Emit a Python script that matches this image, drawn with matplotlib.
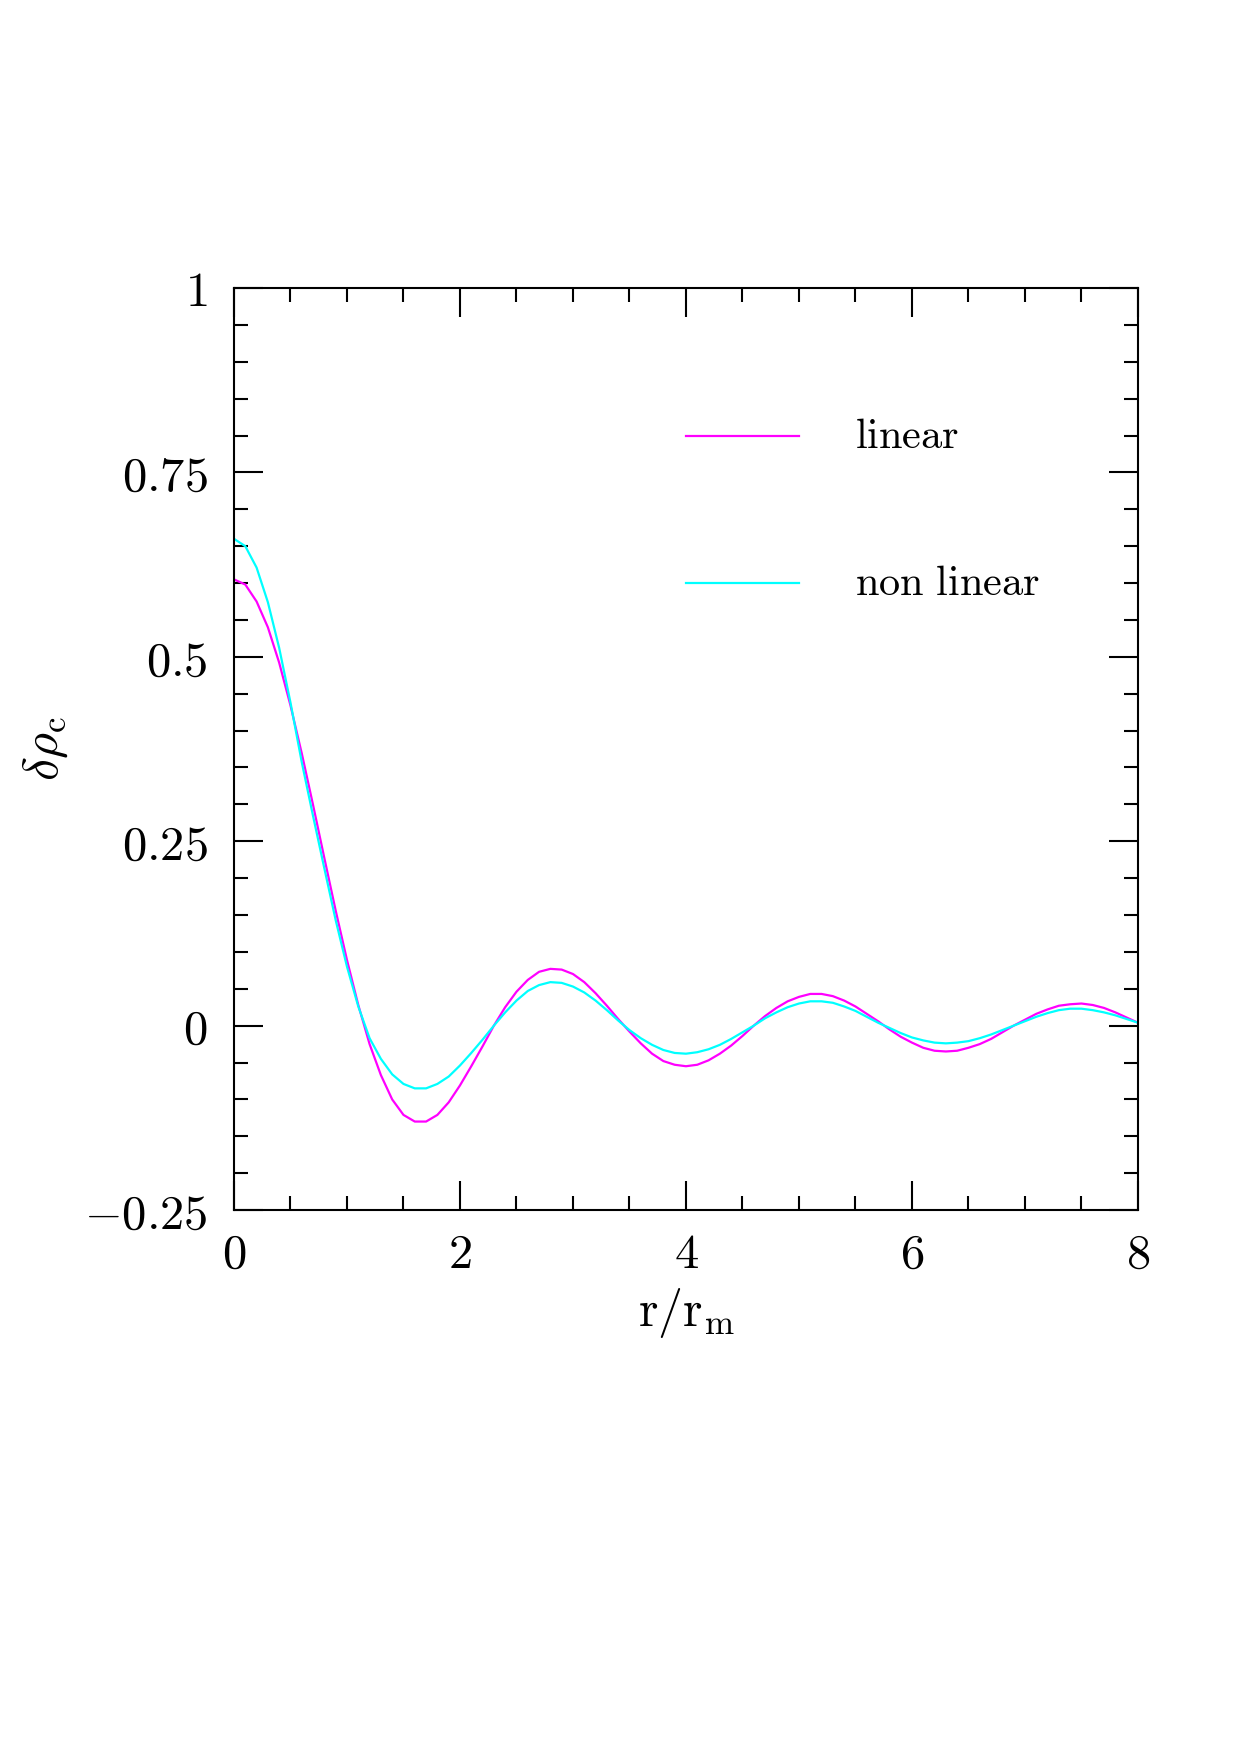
import matplotlib
matplotlib.use("Agg")
import matplotlib.pyplot as plt

# data
r = [i / 10 for i in range(81)]

linear = [
    0.605, 0.598, 0.575, 0.540, 0.492, 0.434, 0.369, 0.299, 0.227, 0.156,
    0.089, 0.028, -0.025, -0.067, -0.100, -0.121, -0.130, -0.130, -0.121, -0.104,
    -0.081, -0.055, -0.028, 0.000, 0.025, 0.046, 0.062, 0.073, 0.077, 0.076,
    0.070, 0.059, 0.044, 0.027, 0.009, -0.008, -0.024, -0.038, -0.048, -0.053,
    -0.055, -0.053, -0.047, -0.038, -0.027, -0.014, 0.000, 0.013, 0.024, 0.033,
    0.039, 0.043, 0.043, 0.040, 0.034, 0.026, 0.016, 0.006, -0.005, -0.015,
    -0.023, -0.030, -0.034, -0.035, -0.034, -0.030, -0.025, -0.018, -0.009, 0.000,
    0.008, 0.016, 0.022, 0.027, 0.029, 0.030, 0.028, 0.024, 0.018, 0.011,
    0.004,
]

non_linear = [
    0.660, 0.650, 0.621, 0.574, 0.512, 0.438, 0.357, 0.284, 0.213, 0.143,
    0.080, 0.026, -0.017, -0.045, -0.066, -0.079, -0.085, -0.085, -0.079, -0.069,
    -0.054, -0.037, -0.019, 0.000, 0.018, 0.034, 0.047, 0.055, 0.059, 0.058,
    0.053, 0.045, 0.034, 0.021, 0.007, -0.006, -0.017, -0.026, -0.033, -0.037,
    -0.038, -0.036, -0.032, -0.026, -0.018, -0.009, 0.000, 0.010, 0.018, 0.025,
    0.030, 0.033, 0.033, 0.031, 0.026, 0.020, 0.012, 0.004, -0.003, -0.010,
    -0.016, -0.020, -0.023, -0.024, -0.023, -0.021, -0.017, -0.012, -0.006, 0.000,
    0.006, 0.012, 0.017, 0.021, 0.023, 0.023, 0.021, 0.018, 0.014, 0.009,
    0.004,
]

labels = ["linear", "non linear"]
colors = ["#ff00ff", "#00ffff"]
x_ticks = [0, 2, 4, 6, 8]
y_ticks = [-0.25, 0, 0.25, 0.5, 0.75, 1]
y_tick_labels = [r"$-0.25$", r"$0$", r"$0.25$", r"$0.5$", r"$0.75$", r"$1$"]

plt.rcParams["mathtext.fontset"] = "cm"
plt.rcParams["font.family"] = "serif"
plt.rcParams["font.serif"] = ["DejaVu Serif"]

fig = plt.figure(figsize=(12.4, 17.55), dpi=100)
ax = fig.add_axes([0.1887, 0.3105, 0.729, 0.5254])

ax.plot(r, linear, color=colors[0], lw=1.6)
ax.plot(r, non_linear, color=colors[1], lw=1.6)

# hand-drawn key, as in the original
for y, lab, c in zip([0.8, 0.6], labels, colors):
    ax.plot([4.0, 5.0], [y, y], color=c, lw=1.6)
    ax.text(5.5, y, r"$\mathrm{" + lab.replace(" ", r"\ ") + "}$",
            fontsize=30.5, va="center", ha="left")

ax.set_xlim(0, 8)
ax.set_ylim(-0.25, 1)
ax.set_xticks(x_ticks)
ax.set_xticklabels([f"${t}$" for t in x_ticks])
ax.set_yticks(y_ticks)
ax.set_yticklabels(y_tick_labels)
ax.set_xticks([i / 2 for i in range(17)], minor=True)
ax.set_yticks([-0.25 + i * 0.05 for i in range(26)], minor=True)

ax.tick_params(which="both", direction="in", top=True, right=True, width=1.5)
ax.tick_params(which="major", length=21, labelsize=35)
ax.tick_params(axis="x", which="major", pad=15)
ax.tick_params(axis="y", which="major", pad=19)
ax.tick_params(which="minor", length=10)
for s in ax.spines.values():
    s.set_linewidth(1.5)

ax.set_xlabel(r"$\mathrm{r/r_m}$", fontsize=36, labelpad=6)
ax.set_ylabel(r"$\delta\rho_{\rm c}$", fontsize=36, labelpad=10)

plt.savefig("out.png", dpi=100)
